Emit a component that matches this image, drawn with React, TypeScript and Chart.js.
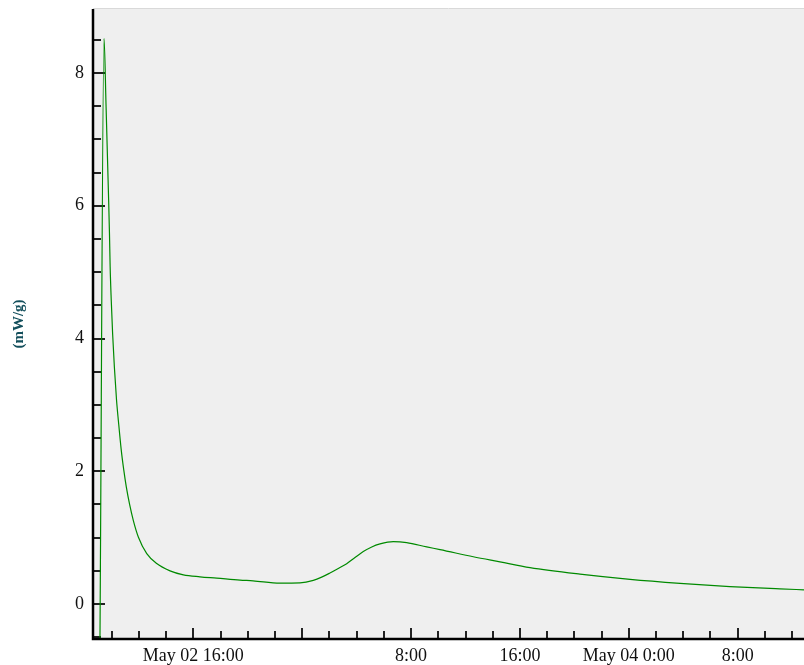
import React, { useEffect, useRef } from "react";
import { Chart, registerables } from "chart.js";

Chart.register(...registerables);

// Time in hours since May 02 0:00
const hours = [
  9.14, 9.44, 9.59, 9.78, 9.84, 9.89, 9.97, 10.07, 10.2, 10.36, 10.5, 10.7,
  10.89, 11.08, 11.32, 11.59, 11.96, 12.58, 13.31, 14.29, 15.27, 16.49, 17.72,
  19.43, 20.39, 22.37, 23.84, 24.82, 25.43, 26.04, 26.65, 27.27, 27.88, 28.49,
  29.11, 29.72, 30.69, 31.68, 33.15, 34.13, 36.57, 38.53, 40.74, 44.41, 48.09,
  51.76, 55.43, 59.1, 60.87,
];
// Heat flow (mW/g)
const heatFlow = [
  -0.6, 8.52, 7.5, 6.08, 5.58, 5.08, 4.58, 4.08, 3.57, 3.07, 2.75, 2.33,
  2.02, 1.76, 1.5, 1.26, 1.01, 0.76, 0.61, 0.5, 0.44, 0.41, 0.39,
  0.36, 0.35, 0.316, 0.32, 0.357, 0.405, 0.467, 0.535, 0.608, 0.7, 0.79,
  0.86, 0.905, 0.94, 0.925, 0.86, 0.82, 0.712, 0.635, 0.548, 0.45, 0.372,
  0.312, 0.263, 0.228, 0.214,
];

const xTickHours = [10, 12, 14, 16, 18, 20, 22, 24, 26, 28, 30, 32, 34, 36, 38, 40, 42, 44, 46, 48, 50, 52, 54, 56, 58, 60];
const xMajorHours = [16, 24, 32, 40, 48, 56];
const xMajorLabels = ["May 02 16:00", "", "8:00", "16:00", "May 04 0:00", "8:00"];

const yTickValues = [-0.5, 0, 0.5, 1, 1.5, 2, 2.5, 3, 3.5, 4, 4.5, 5, 5.5, 6, 6.5, 7, 7.5, 8, 8.5];
const yMajorValues = [0, 2, 4, 6, 8];

const X_MIN = 8.63;
const X_MAX = 60.87;
const Y_MIN = -0.527;
const Y_MAX = 8.964;

const SERIF = "'Liberation Serif', 'Times New Roman', serif";

const decorPlugin = {
  id: "decor",
  beforeDraw(chart: any) {
    const { ctx, chartArea } = chart;
    ctx.save();
    ctx.fillStyle = "#efefef";
    ctx.fillRect(chartArea.left, chartArea.top, chartArea.right - chartArea.left, chartArea.bottom - chartArea.top);
    ctx.strokeStyle = "#d9d9d9";
    ctx.lineWidth = 1;
    ctx.beginPath();
    ctx.moveTo(chartArea.left, chartArea.top - 0.5);
    ctx.lineTo(chartArea.right, chartArea.top - 0.5);
    ctx.stroke();
    ctx.restore();
  },
  beforeDatasetsDraw(chart: any) {
    const { ctx, chartArea, scales } = chart;
    const xs = scales.x;
    const ys = scales.y;
    ctx.save();
    ctx.strokeStyle = "#222";
    ctx.lineWidth = 2;
    ctx.beginPath();
    xTickHours.forEach((h) => {
      const px = Math.round(xs.getPixelForValue(h));
      const len = xMajorHours.includes(h) ? 11 : 8;
      ctx.moveTo(px, chartArea.bottom);
      ctx.lineTo(px, chartArea.bottom - len);
    });
    yTickValues.forEach((v) => {
      const py = Math.round(ys.getPixelForValue(v));
      const len = yMajorValues.includes(v) ? 12 : 8;
      ctx.moveTo(chartArea.left, py);
      ctx.lineTo(chartArea.left + len, py);
    });
    ctx.stroke();
    ctx.restore();
  },
  afterDatasetsDraw(chart: any) {
    const { ctx, chartArea } = chart;
    ctx.save();
    ctx.strokeStyle = "#000";
    ctx.lineWidth = 2.5;
    ctx.beginPath();
    ctx.moveTo(chartArea.left, chartArea.top);
    ctx.lineTo(chartArea.left, chartArea.bottom);
    ctx.lineTo(chartArea.right, chartArea.bottom);
    ctx.stroke();
    ctx.restore();
  },
};

export default function App() {
  const canvasRef = useRef<HTMLCanvasElement | null>(null);

  useEffect(() => {
    if (!canvasRef.current) return;
    const chart = new Chart(canvasRef.current, {
      type: "line",
      data: {
        datasets: [
          {
            data: hours.map((h, i) => ({ x: h, y: heatFlow[i] })),
            borderColor: "#008a00",
            borderWidth: 1.2,
            pointRadius: 0,
            cubicInterpolationMode: "monotone",
            fill: false,
          },
        ],
      },
      options: {
        animation: false,
        responsive: false,
        layout: { padding: { top: 9, right: 0, left: 0, bottom: 0 } },
        plugins: { legend: { display: false }, tooltip: { enabled: false } },
        scales: {
          x: {
            type: "linear",
            min: X_MIN,
            max: X_MAX,
            grid: { display: false, drawTicks: false },
            border: { display: false },
            afterBuildTicks: (scale: any) => {
              scale.ticks = xMajorHours.map((v) => ({ value: v }));
            },
            afterFit: (scale: any) => {
              scale.height = 26;
              scale.paddingLeft = 0;
              scale.paddingRight = 0;
              scale.paddingTop = 0;
              scale.paddingBottom = 0;
            },
            ticks: {
              autoSkip: false,
              maxRotation: 0,
              padding: 6,
              color: "#111",
              font: { family: SERIF, size: 18 },
              callback: (v: any) => {
                const i = xMajorHours.indexOf(Number(v));
                return i >= 0 ? xMajorLabels[i] : "";
              },
            },
          },
          y: {
            type: "linear",
            min: Y_MIN,
            max: Y_MAX,
            grid: { display: false, drawTicks: false },
            border: { display: false },
            afterBuildTicks: (scale: any) => {
              scale.ticks = yMajorValues.map((v) => ({ value: v }));
            },
            afterFit: (scale: any) => {
              scale.width = 93;
              scale.paddingLeft = 0;
              scale.paddingRight = 0;
              scale.paddingTop = 0;
              scale.paddingBottom = 0;
            },
            title: {
              display: true,
              text: "(mW/g)",
              color: "#134f5c",
              font: { family: SERIF, size: 15, weight: "bold" },
              padding: { top: 10, bottom: 0 },
            },
            ticks: {
              autoSkip: false,
              padding: 9,
              color: "#111",
              font: { family: SERIF, size: 18 },
              callback: (v: any) => String(v),
            },
          },
        },
      },
      plugins: [decorPlugin],
    });
    return () => chart.destroy();
  }, []);

  return (
    <div style={{ position: "absolute", left: 0, top: 0, width: 804, height: 665 }}>
      <canvas ref={canvasRef} width={804} height={665} />
    </div>
  );
}
